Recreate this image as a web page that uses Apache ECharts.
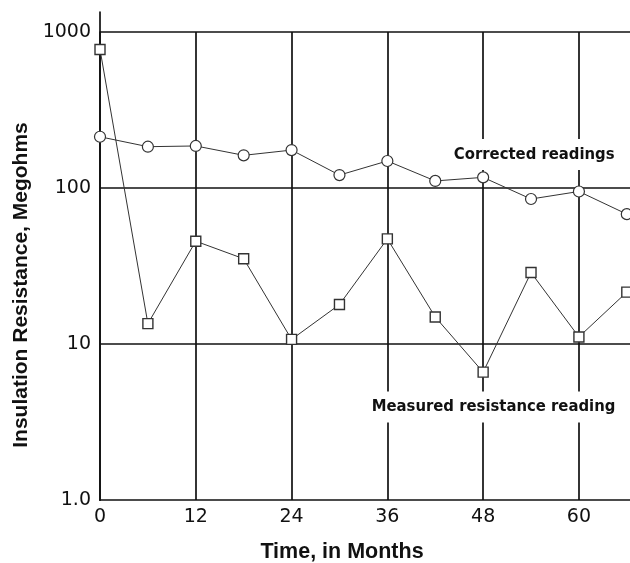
<!DOCTYPE html>
<html>
<head>
<meta charset="utf-8">
<script src="https://cdn.jsdelivr.net/npm/echarts@6/dist/echarts.min.js"></script>
<style>html,body{margin:0;padding:0;background:#fff}#c{width:630px;height:563px}</style>
</head>
<body>
<div id="c"></div>
<script>
const months = [0, 6, 12, 18, 24, 30, 36, 42, 48, 54, 60, 66];
const corrected = [213, 184, 186, 162, 175, 121, 149, 111, 117, 85, 95, 68];
const measured = [773, 13.5, 45.6, 35.2, 10.7, 17.9, 47.2, 14.9, 6.6, 28.7, 11.1, 21.5];
const xTicks = [0, 12, 24, 36, 48, 60];
const yTicks = [1, 10, 100, 1000];

const lineColor = '#111';
const annFont = '"Liberation Sans Narrow", "DejaVu Sans Condensed", "Liberation Sans", sans-serif';

const chart = echarts.init(document.getElementById('c'), null, {renderer: 'canvas'});
chart.setOption({
  animation: false,
  backgroundColor: '#fff',
  grid: [
    {left: 100, right: 0, top: 32, bottom: 63, containLabel: false, outerBoundsMode: 'none'},
    {left: 100, right: 0, top: 12, bottom: 63, containLabel: false, outerBoundsMode: 'none'}
  ],
  xAxis: [{
    type: 'value', min: 0, max: 66.4, interval: 12,
    axisLine: {show: true, lineStyle: {color: lineColor, width: 1.7}},
    axisTick: {show: false},
    splitLine: {show: true, showMinLine: false, showMaxLine: false, lineStyle: {color: lineColor, width: 1.7}},
    axisLabel: {
      showMaxLabel: false, margin: 8, color: '#111',
      fontFamily: '"DejaVu Sans", sans-serif', fontSize: 19,
      formatter: v => xTicks.includes(v) ? String(v) : ''
    },
    name: 'Time, in Months', nameLocation: 'middle', nameGap: 41,
    nameTextStyle: {fontFamily: '"Liberation Sans", Arial, sans-serif', fontWeight: 'bold', fontSize: 21.5, color: '#111', padding: [0, 46, 0, 0]}
  }, {
    gridIndex: 1, type: 'value', min: 0, max: 1, show: false
  }],
  yAxis: [{
    type: 'log', logBase: 10, min: 1, max: 1000,
    axisLine: {show: true, lineStyle: {color: lineColor, width: 1.7}},
    axisTick: {show: false},
    splitLine: {show: true, showMinLine: false, lineStyle: {color: lineColor, width: 1.7}},
    axisLabel: {
      margin: 9, color: '#111',
      fontFamily: '"DejaVu Sans", sans-serif', fontSize: 19,
      formatter: v => v === 1 ? '1.0' : (yTicks.includes(v) ? String(v) : '')
    },
    name: 'Insulation Resistance, Megohms', nameLocation: 'middle', nameGap: 68,
    nameTextStyle: {fontFamily: '"Liberation Sans", Arial, sans-serif', fontWeight: 'bold', fontSize: 21, color: '#111', padding: [0, 38, 0, 0]}
  }, {
    gridIndex: 1, type: 'value', min: 0, max: 1,
    axisLine: {show: true, lineStyle: {color: lineColor, width: 1.7}},
    axisTick: {show: false}, axisLabel: {show: false}, splitLine: {show: false}
  }],
  series: [{
    name: 'Corrected readings', type: 'line',
    data: months.map((m, i) => [m, corrected[i]]),
    symbol: 'circle', symbolSize: 11,
    lineStyle: {color: '#333', width: 1},
    itemStyle: {color: '#fff', borderColor: '#333', borderWidth: 1.2},
    z: 5,
    markPoint: {
      symbol: 'rect', symbolSize: 0,
      data: [{coord: [54.4, 164], value: 'Corrected readings'}],
      label: {
        show: true, position: 'inside', formatter: 'Corrected readings',
        color: '#111', fontFamily: annFont, fontWeight: 'bold', fontSize: 16.5,
        backgroundColor: '#fff', padding: [7, 4]
      }
    }
  }, {
    name: 'Measured resistance reading', type: 'line',
    data: months.map((m, i) => [m, measured[i]]),
    symbol: 'rect', symbolSize: 10,
    lineStyle: {color: '#333', width: 1},
    itemStyle: {color: '#fff', borderColor: '#333', borderWidth: 1.4},
    z: 5,
    markPoint: {
      symbol: 'rect', symbolSize: 0,
      data: [{coord: [49.3, 3.95], value: 'Measured resistance reading'}],
      label: {
        show: true, position: 'inside', formatter: 'Measured resistance reading',
        color: '#111', fontFamily: annFont, fontWeight: 'bold', fontSize: 16.5,
        backgroundColor: '#fff', padding: [7, 4]
      }
    }
  }]
});
</script>
</body>
</html>
